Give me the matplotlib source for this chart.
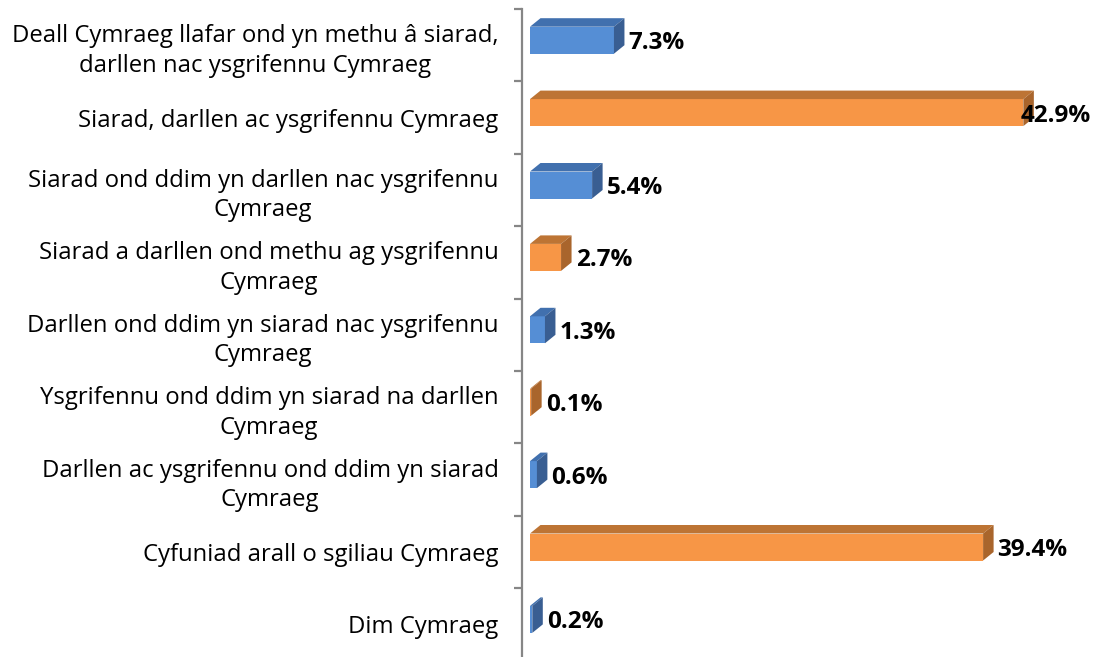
import matplotlib
matplotlib.use("Agg")
import matplotlib.pyplot as plt
from matplotlib.patches import Polygon

categories = [
    "Deall Cymraeg llafar ond yn methu â siarad,\ndarllen nac ysgrifennu Cymraeg",
    "Siarad, darllen ac ysgrifennu Cymraeg",
    "Siarad ond ddim yn darllen nac ysgrifennu\nCymraeg",
    "Siarad a darllen ond methu ag ysgrifennu\nCymraeg",
    "Darllen ond ddim yn siarad nac ysgrifennu\nCymraeg",
    "Ysgrifennu ond ddim yn siarad na darllen\nCymraeg",
    "Darllen ac ysgrifennu ond ddim yn siarad\nCymraeg",
    "Cyfuniad arall o sgiliau Cymraeg",
    "Dim Cymraeg",
]
values = [7.3, 42.9, 5.4, 2.7, 1.3, 0.1, 0.6, 39.4, 0.2]
value_labels = ["7.3%", "42.9%", "5.4%", "2.7%", "1.3%", "0.1%", "0.6%", "39.4%", "0.2%"]
series_kind = ["blue", "orange", "blue", "orange", "blue", "orange", "blue", "orange", "blue"]

front_col = {"blue": "#558ED5", "orange": "#F79646"}
top_col = {"blue": "#4170AE", "orange": "#BD7434"}
side_col = {"blue": "#395E92", "orange": "#A9652C"}

W, H = 1095, 657
fig = plt.figure(figsize=(W / 100, H / 100), dpi=100)

px_per_unit = 11.5
spine_px, zero_px = 522, 530
top_px, cat_px = 9, 72.4
n = len(categories)
ax = fig.add_axes([spine_px / W, 1 - (top_px + n * cat_px) / H,
                   (W - spine_px) / W, n * cat_px / H])
xmin = -(zero_px - spine_px) / px_per_unit
xmax = (W - zero_px) / px_per_unit
ax.set_xlim(xmin, xmax)
ax.set_ylim(n - 0.5, -0.5)

bar_h = 27 / cat_px
shift = -5 / cat_px
dx = 10.5 / px_per_unit
dy = 8.5 / cat_px

ys = list(range(n))
for y, v, k in zip(ys, values, series_kind):
    yc = y + shift
    yt = yc - bar_h / 2
    yb = yc + bar_h / 2
    ax.barh(yc, v, height=bar_h, left=0, color=front_col[k], edgecolor="none", zorder=3)
    ax.add_patch(Polygon([(0, yt), (v, yt), (v + dx, yt - dy), (dx, yt - dy)],
                         closed=True, facecolor=top_col[k], edgecolor="none", zorder=3))
    ax.add_patch(Polygon([(v, yt), (v, yb), (v + dx, yb - dy), (v + dx, yt - dy)],
                         closed=True, facecolor=side_col[k], edgecolor="none", zorder=3))

pad = 4 / px_per_unit
for y, v, lab in zip(ys, values, value_labels):
    x = v + dx + pad
    ha = "left"
    if x + 75 / px_per_unit > xmax:
        x = xmax - 4 / px_per_unit
        ha = "right"
    ax.text(x, y - 2 / cat_px, lab, ha=ha, va="center", fontsize=17.5, fontweight="bold",
            family="Open Sans", color="black", zorder=5)

for s in ["top", "right", "bottom"]:
    ax.spines[s].set_visible(False)
ax.spines["left"].set_color("#868686")
ax.spines["left"].set_linewidth(1.6)
ax.set_xticks([])
ax.set_yticks([i - 0.5 for i in range(n + 1)])
ax.set_yticklabels([])
ax.tick_params(axis="y", which="major", length=5.5, width=1.6, color="#868686", direction="out")
ax.set_yticks(ys, minor=True)
ax.set_yticklabels(categories, minor=True, family="Open Sans", fontsize=17.2, color="black")
ax.tick_params(axis="y", which="minor", length=0, pad=17)
for t in ax.get_yticklabels(minor=True):
    t.set_multialignment("center")
    t.set_linespacing(1.3)

fig.savefig("out.png", dpi=100)
